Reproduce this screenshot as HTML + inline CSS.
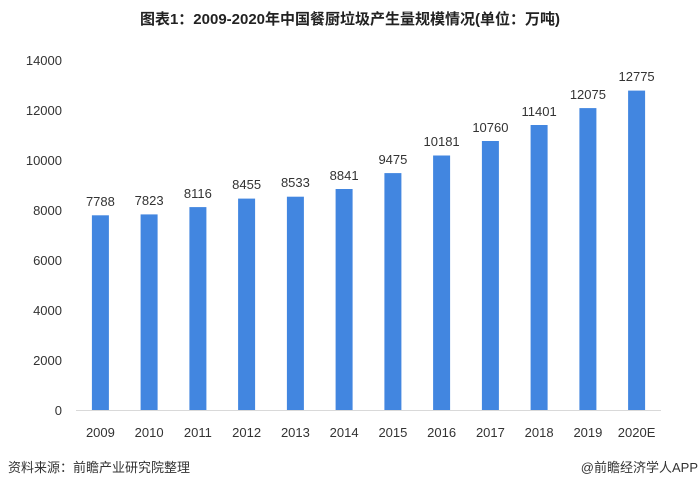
<!DOCTYPE html>
<html><head><meta charset="utf-8"><style>
body{margin:0;background:#fff;}
svg text{font-family:"Liberation Sans","Noto Sans CJK SC",sans-serif;}
</style></head><body>
<svg width="700" height="490" xmlns="http://www.w3.org/2000/svg">
<rect width="700" height="490" fill="#fff"/>
<text x="350" y="24" text-anchor="middle" font-size="15" font-weight="bold" fill="#222">图表1：2009-2020年中国餐厨垃圾产生量规模情况(单位：万吨)</text>
<g font-size="13" fill="#333" text-anchor="end">
<text x="62" y="415">0</text>
<text x="62" y="365">2000</text>
<text x="62" y="315">4000</text>
<text x="62" y="265">6000</text>
<text x="62" y="215">8000</text>
<text x="62" y="165">10000</text>
<text x="62" y="115">12000</text>
<text x="62" y="65">14000</text>
</g>
<line x1="76" y1="410.5" x2="661" y2="410.5" stroke="#d9d9d9" stroke-width="1"/>
<g fill="#4286e0">
<rect x="91.9" y="215.3" width="17" height="194.7"/>
<rect x="140.6" y="214.4" width="17" height="195.6"/>
<rect x="189.4" y="207.1" width="17" height="202.9"/>
<rect x="238.1" y="198.6" width="17" height="211.4"/>
<rect x="286.9" y="196.7" width="17" height="213.3"/>
<rect x="335.6" y="189.0" width="17" height="221.0"/>
<rect x="384.4" y="173.1" width="17" height="236.9"/>
<rect x="433.1" y="155.5" width="17" height="254.5"/>
<rect x="481.9" y="141.0" width="17" height="269.0"/>
<rect x="530.6" y="125.0" width="17" height="285.0"/>
<rect x="579.4" y="108.1" width="17" height="301.9"/>
<rect x="628.1" y="90.6" width="17" height="319.4"/>
</g>
<g font-size="13" fill="#333" text-anchor="middle">
<text x="100.4" y="206">7788</text>
<text x="149.1" y="205">7823</text>
<text x="197.9" y="198">8116</text>
<text x="246.6" y="189">8455</text>
<text x="295.4" y="187">8533</text>
<text x="344.1" y="180">8841</text>
<text x="392.9" y="164">9475</text>
<text x="441.6" y="146">10181</text>
<text x="490.4" y="132">10760</text>
<text x="539.1" y="116">11401</text>
<text x="587.9" y="99">12075</text>
<text x="636.6" y="81">12775</text>
<text x="100.4" y="437">2009</text>
<text x="149.1" y="437">2010</text>
<text x="197.9" y="437">2011</text>
<text x="246.6" y="437">2012</text>
<text x="295.4" y="437">2013</text>
<text x="344.1" y="437">2014</text>
<text x="392.9" y="437">2015</text>
<text x="441.6" y="437">2016</text>
<text x="490.4" y="437">2017</text>
<text x="539.1" y="437">2018</text>
<text x="587.9" y="437">2019</text>
<text x="636.6" y="437">2020E</text>
</g>
<text x="8" y="472" font-size="13" fill="#333">资料来源：前瞻产业研究院整理</text>
<text x="698" y="472" font-size="13" fill="#333" text-anchor="end">@前瞻经济学人APP</text>
</svg>
</body></html>
